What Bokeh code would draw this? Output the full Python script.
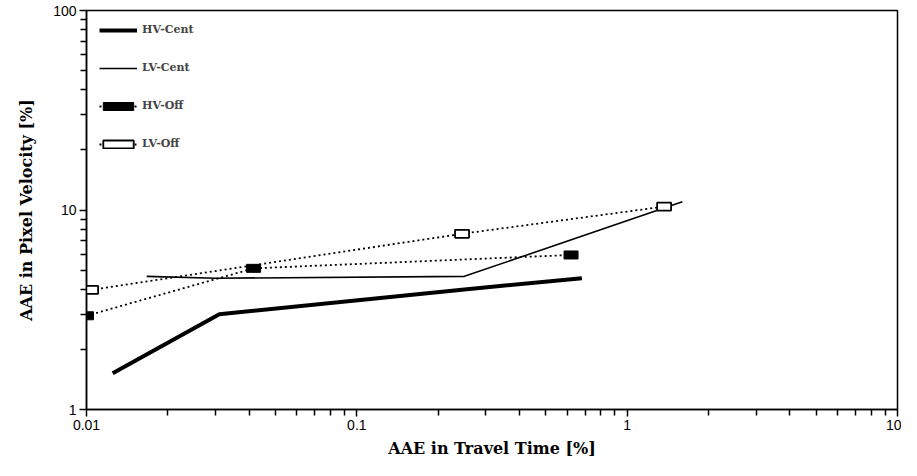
from bokeh.plotting import figure
from bokeh.models import FixedTicker, Legend, LegendItem
from bokeh.embed import file_html
from bokeh.resources import INLINE

# ---- data ----
hv_cent_x = [0.0125, 0.031, 0.25, 0.68]
hv_cent_y = [1.52, 3.0, 4.0, 4.55]

lv_cent_x = [0.0167, 0.03, 0.25, 1.6]
lv_cent_y = [4.65, 4.55, 4.65, 11.0]

hv_off_x = [0.01, 0.0415, 0.62]
hv_off_y = [2.95, 5.1, 5.95]

lv_off_x = [0.0104, 0.245, 1.37]
lv_off_y = [3.98, 7.6, 10.4]

x_ticks = [0.01, 0.1, 1, 10]
x_tick_labels = ["0.01", "0.1", "1", "10"]
y_ticks = [1, 10, 100]
y_tick_labels = ["1", "10", "100"]

x_minor = [m * d for d in [0.01, 0.1, 1] for m in range(2, 10)]
y_minor = [m * d for d in [1, 10] for m in range(2, 10)]

p = figure(width=901, height=460, x_axis_type="log", y_axis_type="log",
           x_range=(0.01, 10), y_range=(1, 100),
           output_backend="svg", toolbar_location=None,
           min_border_left=86, min_border_right=4, min_border_top=10, min_border_bottom=44)

p.xgrid.visible = False
p.ygrid.visible = False
p.outline_line_color = "black"
p.outline_line_width = 1.5
p.background_fill_color = "white"

p.xaxis.ticker = FixedTicker(ticks=x_ticks, minor_ticks=x_minor)
p.yaxis.ticker = FixedTicker(ticks=y_ticks, minor_ticks=y_minor)
p.xaxis.major_label_overrides = {t: l for t, l in zip(x_ticks, x_tick_labels)}
p.yaxis.major_label_overrides = {t: l for t, l in zip(y_ticks, y_tick_labels)}

for ax in (p.xaxis, p.yaxis):
    ax.axis_line_color = "black"
    ax.axis_line_width = 1.5
    ax.major_tick_in = 0
    ax.major_tick_out = 7
    ax.minor_tick_in = 0
    ax.minor_tick_out = 6
    ax.major_tick_line_color = "black"
    ax.minor_tick_line_color = "black"
    ax.major_tick_line_width = 1.5
    ax.minor_tick_line_width = 1.5
    ax.major_label_text_font = "Liberation Sans"
    ax.major_label_text_font_size = "14px"
    ax.major_label_text_color = "black"
    ax.major_label_standoff = 3
    ax.axis_label_text_font = "DejaVu Serif"
    ax.axis_label_text_font_style = "bold"
    ax.axis_label_text_font_size = "16px"
    ax.axis_label_text_color = "black"

p.xaxis.axis_label = "AAE in Travel Time [%]"
p.yaxis.axis_label = "AAE in Pixel Velocity [%]"
p.xaxis.axis_label_standoff = 6
p.yaxis.axis_label_standoff = 14
p.yaxis.major_label_orientation = "horizontal"

r1 = p.line(hv_cent_x, hv_cent_y, line_color="black", line_width=4)
r2 = p.line(lv_cent_x, lv_cent_y, line_color="black", line_width=1.6)
r3 = p.line(hv_off_x, hv_off_y, line_color="black", line_width=1.8, line_dash="2 3")
r3m = p.rect(hv_off_x, hv_off_y, width=14, height=8, width_units="screen", height_units="screen",
             fill_color="black", line_color="black")
r4 = p.line(lv_off_x, lv_off_y, line_color="black", line_width=1.8, line_dash="2 3")
r4m = p.rect(lv_off_x, lv_off_y, width=14, height=8, width_units="screen", height_units="screen",
             fill_color="white", line_color="black", line_width=1.8)

legend = Legend(items=[
    LegendItem(label="HV-Cent", renderers=[r1]),
    LegendItem(label="LV-Cent", renderers=[r2]),
    LegendItem(label="HV-Off", renderers=[r3, r3m]),
    LegendItem(label="LV-Off", renderers=[r4, r4m]),
], location="top_left")
legend.label_text_font = "DejaVu Serif"
legend.label_text_font_style = "bold"
legend.label_text_font_size = "11px"
legend.border_line_color = None
legend.background_fill_alpha = 0
legend.glyph_width = 38
legend.glyph_height = 10
legend.label_height = 13
legend.spacing = 25
legend.margin = 13
legend.padding = 8
p.add_layout(legend)

open("out.html", "w").write(file_html(p, INLINE))
